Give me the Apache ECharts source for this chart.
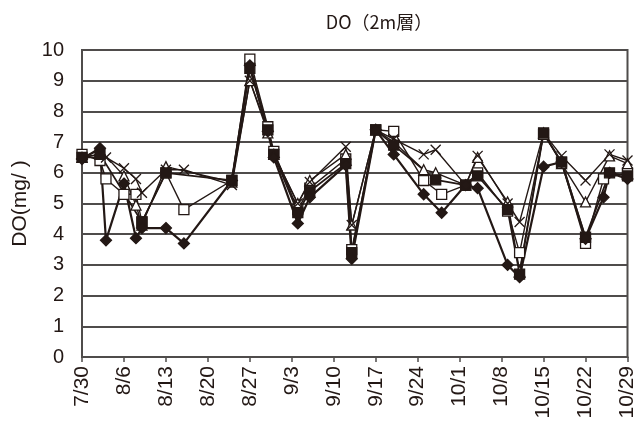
<!DOCTYPE html>
<html>
<head>
<meta charset="utf-8">
<script src="https://cdn.jsdelivr.net/npm/echarts@6/dist/echarts.min.js"></script>
<style>html,body{margin:0;padding:0;background:#fff}#c{width:638px;height:426px}</style>
</head>
<body>
<div id="c"></div>
<script>
const tickLabels = ['7/30','8/6','8/13','8/20','8/27','9/3','9/10','9/17','9/24','10/1','10/8','10/15','10/22','10/29'];

const sqDates = ['7/30','8/2','8/3','8/6','8/8','8/9','8/13','8/16','8/24','8/27','8/30','8/31','9/4','9/6','9/12','9/13','9/17','9/20','9/25','9/28','10/2','10/4','10/9','10/11','10/15','10/18','10/22','10/25','10/29'];
const sqVals  = [6.6,6.4,5.8,5.3,5.3,4.4,6.0,4.8,5.75,9.7,7.5,6.7,4.8,5.5,6.45,3.5,7.4,7.35,5.75,5.3,5.6,6.0,4.75,3.4,7.25,6.35,3.7,5.8,6.0];

const triDates = ['7/30','8/2','8/6','8/8','8/9','8/13','8/24','8/27','8/30','8/31','9/4','9/6','9/12','9/13','9/17','9/20','9/25','9/27','10/2','10/4','10/9','10/11','10/15','10/18','10/22','10/26','10/29'];
const triVals  = [6.5,6.75,5.9,4.95,4.3,6.2,5.7,9.0,7.3,6.6,5.0,5.75,6.6,4.3,7.4,7.0,6.1,6.0,5.6,6.5,5.05,2.8,7.3,6.3,5.05,6.55,6.3];

const crossDates = ['7/30','8/3','8/6','8/8','8/9','8/13','8/16','8/24','8/27','8/30','8/31','9/4','9/6','9/12','9/13','9/17','9/20','9/25','9/27','10/2','10/4','10/9','10/11','10/15','10/18','10/22','10/26','10/29'];
const crossVals  = [6.5,6.5,6.15,5.8,5.35,6.1,6.1,5.6,9.0,7.4,6.6,5.0,5.7,6.85,4.3,7.4,7.1,6.6,6.75,5.6,6.55,5.0,4.4,7.3,6.55,5.75,6.6,6.4];

const fsqDates = ['7/30','8/2','8/9','8/13','8/24','8/27','8/30','8/31','9/4','9/6','9/12','9/13','9/17','9/20','9/27','10/2','10/4','10/9','10/11','10/15','10/18','10/22','10/26','10/29'];
const fsqVals  = [6.5,6.6,4.4,6.0,5.75,9.4,7.4,6.6,4.7,5.4,6.3,3.4,7.4,6.9,5.77,5.6,5.9,4.8,2.7,7.3,6.35,3.9,6.0,5.9];

const diaDates = ['7/30','8/2','8/3','8/6','8/8','8/9','8/13','8/16','8/24','8/27','8/30','8/31','9/4','9/6','9/12','9/13','9/17','9/20','9/25','9/28','10/2','10/4','10/9','10/11','10/15','10/18','10/22','10/25','10/26','10/29'];
const diaVals  = [6.45,6.8,3.8,5.65,3.87,4.2,4.2,3.7,5.75,9.5,7.35,6.5,4.35,5.2,6.25,3.2,7.4,6.6,5.3,4.7,5.6,5.5,3.0,2.6,6.2,6.35,3.85,5.2,6.0,5.8];

function dayOf(s){
  const p = s.split('/').map(Number);
  return Math.round((Date.UTC(2010,p[0]-1,p[1]) - Date.UTC(2010,6,30))/86400000);
}
function pairs(dates, vals){ return dates.map((d,i)=>[dayOf(d), vals[i]]); }

const INK = '#231815';
const GRID = '#4f4c4b';
const SANS = 'Liberation Sans';
const crossPath = 'path://M0,0L10,10M10,0L0,10';

function mk(name, dates, vals, symbol, size, fill, lw){
  return {
    name, type:'line', data: pairs(dates, vals), symbol, symbolSize:size,
    clip:false,
    lineStyle:{color:INK, width:lw},
    itemStyle:{color:fill, borderColor:INK, borderWidth:1.3},
    emphasis:{disabled:true}, animation:false
  };
}

const chart = echarts.init(document.getElementById('c'), null, {renderer:'canvas'});
chart.setOption({
  animation:false,
  title:{text:'DO（2m層）', left:374, top:8, textAlign:'center',
    textStyle:{fontSize:18, fontWeight:'normal', color:INK, fontFamily:'Noto Sans CJK JP'}},
  grid:{left:82, right:1, top:50, bottom:69, show:true, borderColor:GRID, borderWidth:2},
  xAxis:{type:'value', min:0, max:91, interval:7,
    axisLine:{lineStyle:{color:GRID, width:2}},
    axisTick:{show:true, length:5, lineStyle:{color:GRID, width:1.5}},
    splitLine:{show:false},
    axisLabel:{rotate:90, margin:9, fontSize:21, color:INK, fontFamily:SANS,
      formatter:v=>tickLabels[Math.round(v/7)]}},
  yAxis:{type:'value', min:0, max:10, interval:1,
    name:'DO(mg/ )', nameLocation:'middle', nameGap:50, nameRotate:90,
    nameTextStyle:{fontSize:21, color:INK, fontFamily:SANS},
    axisLine:{show:true, lineStyle:{color:GRID, width:2}},
    axisTick:{show:false},
    splitLine:{lineStyle:{color:GRID, width:2}},
    axisLabel:{fontSize:20, margin:18, color:INK, fontFamily:SANS}},
  series:[
    mk('□', sqDates, sqVals, 'rect', 10, '#ffffff', 1.4),
    mk('△', triDates, triVals, 'triangle', 10, '#ffffff', 1.4),
    mk('×', crossDates, crossVals, crossPath, 10, 'rgba(0,0,0,0)', 1.4),
    mk('■', fsqDates, fsqVals, 'rect', 10, INK, 1.8),
    mk('◆', diaDates, diaVals, 'diamond', 11, INK, 2.2)
  ]
});
</script>
</body>
</html>
